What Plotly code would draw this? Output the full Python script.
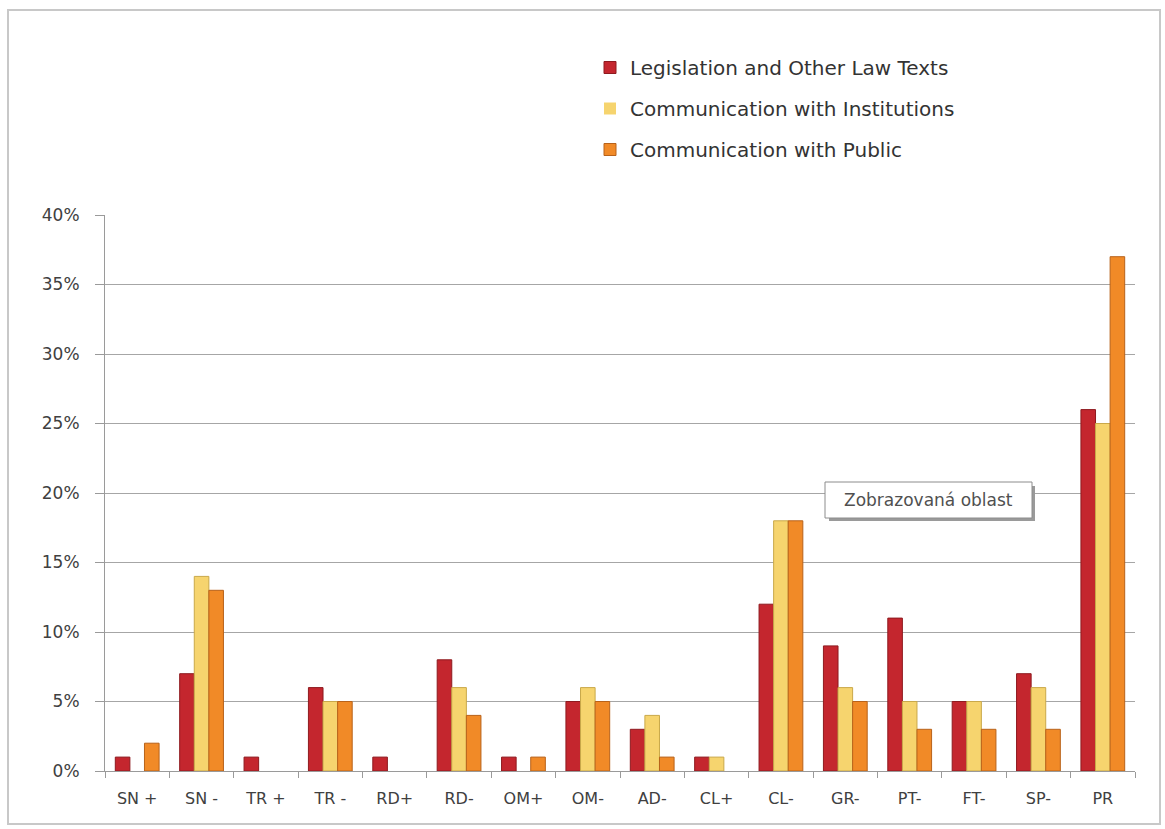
import plotly.graph_objects as go

categories = ["SN +", "SN -", "TR +", "TR -", "RD+", "RD-", "OM+", "OM-",
              "AD-", "CL+", "CL-", "GR-", "PT-", "FT-", "SP-", "PR"]

legislation = [1, 7, 1, 6, 1, 8, 1, 5, 3, 1, 12, 9, 11, 5, 7, 26]
institutions = [0, 14, 0, 5, 0, 6, 0, 6, 4, 1, 18, 6, 5, 5, 6, 25]
public = [2, 13, 0, 5, 0, 4, 1, 5, 1, 0, 18, 5, 3, 3, 3, 37]

series = [
    ("Legislation and Other Law Texts", legislation, "#C4262E", "#8E1A1F"),
    ("Communication with Institutions", institutions, "#F6D46E", "#C9A84A"),
    ("Communication with Public", public, "#F18A27", "#B8621A"),
]

fig = go.Figure()
for i, (name, vals, color, edge) in enumerate(series):
    fig.add_trace(go.Bar(
        x=categories,
        y=[v / 100 for v in vals],
        name=name,
        legendgroup=f"g{i}",
        marker=dict(
            color=color,
            # no outline on empty bars so nothing shows at the baseline
            line=dict(color=edge, width=[1 if v > 0 else 0 for v in vals]),
        ),
    ))

font_family = "'DejaVu Sans', sans-serif"

# plot-area geometry in pixels, used to place the frame and the label box
PL, PR_, PT, PB = 105, 1135, 215, 771
PW, PH = PR_ - PL, PB - PT


def px_x(x):
    return (x - PL) / PW


def px_y(y):
    return (PB - y) / PH


fig.update_layout(
    width=1165,
    height=829,
    paper_bgcolor="white",
    plot_bgcolor="white",
    barmode="group",
    bargap=0.32,
    bargroupgap=0,
    margin=dict(l=PL, r=1165 - PR_, t=PT, b=829 - PB),
    font=dict(family=font_family, size=16, color="#404040"),
    showlegend=True,
    legend=dict(
        x=px_x(590), y=px_y(48), xanchor="left", yanchor="top",
        font=dict(family=font_family, size=20, color="#333333"),
        tracegroupgap=12,
        itemwidth=30,
        bgcolor="rgba(0,0,0,0)",
    ),
    xaxis=dict(
        type="category",
        showline=True, linecolor="#9a9a9a", linewidth=1,
        ticks="outside", tickson="boundaries", ticklen=6, tickcolor="#9a9a9a",
        showgrid=False,
        tickfont=dict(family=font_family, size=16, color="#404040"),
        ticklabelstandoff=13,
    ),
    yaxis=dict(
        range=[0, 0.40],
        tickvals=[0, 0.05, 0.10, 0.15, 0.20, 0.25, 0.30, 0.35, 0.40],
        tickformat=".0%",
        showline=True, linecolor="#9a9a9a", linewidth=1,
        ticks="outside", ticklen=9, tickcolor="#9a9a9a",
        showgrid=True, gridcolor="#a6a6a6", gridwidth=1,
        zeroline=False,
        tickfont=dict(family=font_family, size=17, color="#404040"),
        ticklabelstandoff=12,
    ),
    shapes=[
        # outer chart frame
        dict(type="rect", xref="paper", yref="paper",
             x0=px_x(8), x1=px_x(1160), y0=px_y(824), y1=px_y(10),
             line=dict(color="#c8c8c8", width=2), fillcolor="rgba(0,0,0,0)",
             layer="below"),
        # drop shadow behind the label box
        dict(type="rect", xref="paper", yref="paper",
             x0=px_x(829), x1=px_x(1035), y0=px_y(521), y1=px_y(486),
             line=dict(width=0), fillcolor="#9a9a9a", layer="above"),
        # label box
        dict(type="rect", xref="paper", yref="paper",
             x0=px_x(825), x1=px_x(1032), y0=px_y(518), y1=px_y(482),
             line=dict(color="#8c8c8c", width=1), fillcolor="white",
             layer="above"),
    ],
    annotations=[
        dict(text="Zobrazovaná oblast", xref="paper", yref="paper",
             x=px_x(928), y=px_y(500),
             xanchor="center", yanchor="middle", showarrow=False,
             font=dict(family=font_family, size=17, color="#505050")),
    ],
)

fig.write_html("out.html")
